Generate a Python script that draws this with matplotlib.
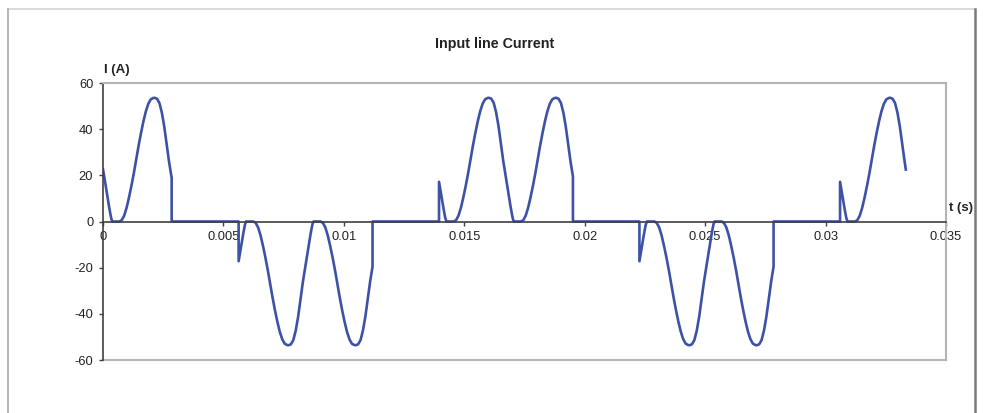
import matplotlib
matplotlib.use("Agg")
import matplotlib.pyplot as plt
from matplotlib.lines import Line2D

plt.rcParams['font.family'] = ['Liberation Sans', 'DejaVu Sans']

# time (s) and line current (A)
t_s = [
    0.0, 0.00005, 0.00015, 0.00025, 0.00031, 0.00035, 0.00039,
    0.00068, 0.00078, 0.00088, 0.00098, 0.00108, 0.00118, 0.00128, 0.00138,
    0.00148, 0.00158, 0.00168, 0.00178, 0.00188, 0.00198, 0.00208, 0.00214,
    0.00224, 0.00234, 0.00244, 0.00254, 0.00264, 0.00274, 0.00284, 0.00285, 0.00285,
    0.00563, 0.00563, 0.00573, 0.00583, 0.00589, 0.00594,
    0.00624, 0.00634, 0.00644, 0.00654, 0.00664, 0.00674, 0.00684, 0.00694,
    0.00704, 0.00714, 0.00724, 0.00734, 0.00744, 0.00754, 0.00764, 0.0077,
    0.0078, 0.0079, 0.008, 0.0081, 0.0082, 0.0083, 0.0084, 0.0085, 0.0086,
    0.00866, 0.0087, 0.00874,
    0.00903, 0.00913, 0.00923, 0.00933, 0.00943, 0.00953, 0.00963, 0.00973,
    0.00983, 0.00993, 0.01003, 0.01013, 0.01023, 0.01033, 0.01043, 0.01049,
    0.01059, 0.01069, 0.01079, 0.01089, 0.01099, 0.01109, 0.01119, 0.01119,
    0.01395, 0.01395, 0.01405, 0.01415, 0.01421, 0.01426,
    0.01456, 0.01466, 0.01476, 0.01486, 0.01496, 0.01506, 0.01516, 0.01526,
    0.01536, 0.01546, 0.01556, 0.01566, 0.01576, 0.01586, 0.01596, 0.01602,
    0.01612, 0.01622, 0.01632, 0.01642, 0.01652, 0.01662, 0.01672, 0.01682,
    0.01692, 0.01698, 0.01702, 0.01706,
    0.01735, 0.01745, 0.01755, 0.01765, 0.01775, 0.01785, 0.01795, 0.01805,
    0.01815, 0.01825, 0.01835, 0.01845, 0.01855, 0.01865, 0.01875, 0.01881,
    0.01891, 0.01901, 0.01911, 0.01921, 0.01931, 0.01941, 0.01951, 0.01951,
    0.02227, 0.02227, 0.02237, 0.02247, 0.02253, 0.02258,
    0.02289, 0.02299, 0.02309, 0.02319, 0.02329, 0.02339, 0.02349, 0.02359,
    0.02369, 0.02379, 0.02389, 0.02399, 0.02409, 0.02419, 0.02429, 0.02435,
    0.02445, 0.02455, 0.02465, 0.02475, 0.02485, 0.02495, 0.02505, 0.02515,
    0.02525, 0.02531, 0.02535, 0.02539,
    0.02568, 0.02578, 0.02588, 0.02598, 0.02608, 0.02618, 0.02628, 0.02638,
    0.02648, 0.02658, 0.02668, 0.02678, 0.02688, 0.02698, 0.02708, 0.02714,
    0.02724, 0.02734, 0.02744, 0.02754, 0.02764, 0.02774, 0.02784, 0.02784,
    0.0306, 0.0306, 0.0307, 0.0308, 0.03086, 0.03091,
    0.03122, 0.03132, 0.03142, 0.03152, 0.03162, 0.03172, 0.03182, 0.03192,
    0.03202, 0.03212, 0.03222, 0.03232, 0.03242, 0.03252, 0.03262, 0.03268,
    0.03278, 0.03288, 0.03298, 0.03308, 0.03318, 0.03328, 0.03333,
]
i_a = [
    22.5, 19.5, 13, 6.5, 3, 1, 0,
    0, 0.6, 2.6, 6, 10.5, 15.5, 21, 27,
    33, 38.5, 43.5, 47.8, 51, 52.9, 53.5, 53.6,
    53.2, 51.4, 47.3, 41.3, 33.5, 26, 19.5, 19.2, 0,
    0, -17.2, -11, -4.8, -1.5, 0,
    0, -0.6, -2.6, -6, -10.5, -15.5, -21, -27,
    -33, -38.5, -43.5, -47.8, -51, -52.9, -53.5, -53.6,
    -53.2, -51.4, -47.3, -41.3, -33.5, -26, -19.5, -13, -6.5,
    -3, -1, 0,
    0, -0.6, -2.6, -6, -10.5, -15.5, -21, -27,
    -33, -38.5, -43.5, -47.8, -51, -52.9, -53.5, -53.6,
    -53.2, -51.4, -47.3, -41.3, -33.5, -26, -19.5, 0,
    0, 17.2, 11, 4.8, 1.5, 0,
    0, 0.6, 2.6, 6, 10.5, 15.5, 21, 27,
    33, 38.5, 43.5, 47.8, 51, 52.9, 53.5, 53.6,
    53.2, 51.4, 47.3, 41.3, 33.5, 26, 19.5, 13,
    6.5, 3, 1, 0,
    0, 0.6, 2.6, 6, 10.5, 15.5, 21, 27,
    33, 38.5, 43.5, 47.8, 51, 52.9, 53.5, 53.6,
    53.2, 51.4, 47.3, 41.3, 33.5, 26, 19.5, 0,
    0, -17.2, -11, -4.8, -1.5, 0,
    0, -0.6, -2.6, -6, -10.5, -15.5, -21, -27,
    -33, -38.5, -43.5, -47.8, -51, -52.9, -53.5, -53.6,
    -53.2, -51.4, -47.3, -41.3, -33.5, -26, -19.5, -13,
    -6.5, -3, -1, 0,
    0, -0.6, -2.6, -6, -10.5, -15.5, -21, -27,
    -33, -38.5, -43.5, -47.8, -51, -52.9, -53.5, -53.6,
    -53.2, -51.4, -47.3, -41.3, -33.5, -26, -19.5, 0,
    0, 17.2, 11, 4.8, 1.5, 0,
    0, 0.6, 2.6, 6, 10.5, 15.5, 21, 27,
    33, 38.5, 43.5, 47.8, 51, 52.9, 53.5, 53.6,
    53.2, 51.4, 47.3, 41.3, 33.5, 26, 22.5,
]

x_ticks = [0, 0.005, 0.01, 0.015, 0.02, 0.025, 0.03, 0.035]
x_labels = ["0", "0.005", "0.01", "0.015", "0.02", "0.025", "0.03", "0.035"]
y_ticks = [-60, -40, -20, 0, 20, 40, 60]
y_labels = ["-60", "-40", "-20", "0", "20", "40", "60"]

fig = plt.figure(figsize=(9.83, 4.13), dpi=100)
ax = fig.add_axes([0.1048, 0.1283, 0.8576, 0.6707])

ax.plot(t_s, i_a, color='#3d52a6', lw=1.9, solid_joinstyle='round')

ax.set_xlim(0, 0.035)
ax.set_ylim(-60, 60)

# excel-ish frame: grey box, dark y axis, x axis sits on zero
for side in ['top', 'right']:
    ax.spines[side].set_color('#b4b4b4')
    ax.spines[side].set_linewidth(1.5)
ax.spines['left'].set_color('#404040')
ax.spines['left'].set_linewidth(1.2)
ax.spines['bottom'].set_position(('data', 0))
ax.spines['bottom'].set_color('#404040')
ax.spines['bottom'].set_linewidth(1.2)
ax.axhline(-60, color='#b4b4b4', lw=1.5, clip_on=False, zorder=0)

ax.set_xticks(x_ticks)
ax.set_xticklabels(x_labels)
ax.set_yticks(y_ticks)
ax.set_yticklabels(y_labels)
ax.tick_params(axis='x', direction='out', length=3, width=1, color='#404040',
               labelsize=9.3, labelcolor='#222222', pad=3.5)
ax.tick_params(axis='y', direction='out', length=3, width=1, color='#404040',
               labelsize=9.3, labelcolor='#222222', pad=4)

fig.text(495 / 983, 1 - 44 / 413, "Input line Current", ha='center', va='center',
         fontsize=10.3, fontweight='bold', color='#222222')
fig.text(117 / 983, 1 - 70 / 413, "I (A)", ha='center', va='center',
         fontsize=9.5, fontweight='bold', color='#222222')
fig.text(961 / 983, 1 - 208 / 413, "t (s)", ha='center', va='center',
         fontsize=9.5, fontweight='bold', color='#222222')

# outer chart-area border
fig.add_artist(Line2D([8 / 983, 975 / 983], [1 - 9 / 413, 1 - 9 / 413],
                      transform=fig.transFigure, color='#d4d4d4', lw=1.2))
fig.add_artist(Line2D([8 / 983, 8 / 983], [0, 1 - 9 / 413],
                      transform=fig.transFigure, color='#a8a8a8', lw=1.2))
fig.add_artist(Line2D([975 / 983, 975 / 983], [0, 1 - 9 / 413],
                      transform=fig.transFigure, color='#7a7a7a', lw=1.8))

fig.savefig("out.png", dpi=100)
